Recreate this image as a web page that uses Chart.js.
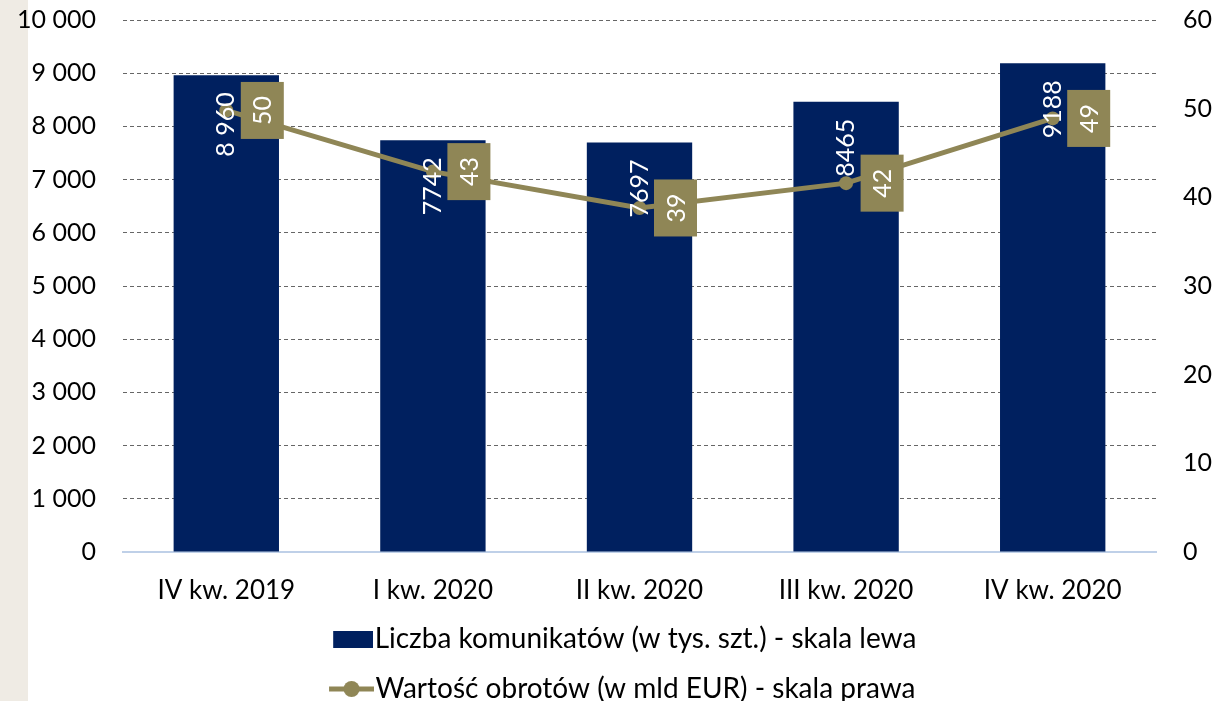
<!DOCTYPE html>
<html lang="pl">
<head>
<meta charset="utf-8">
<title>Liczba komunikatów i wartość obrotów</title>
<script src="https://cdn.jsdelivr.net/npm/chart.js@4.4.1/dist/chart.umd.min.js"></script>
<style>
  html, body { margin: 0; padding: 0; background: #fff; overflow: hidden; }
  #wrap { position: relative; width: 1232px; height: 701px; overflow: hidden; }
  #strip { position: absolute; left: 0; top: 0; width: 28px; height: 100%; background: #efebe4; }
  #chart { position: absolute; left: 0; top: 0; }
</style>
</head>
<body>
<div id="wrap">
  <div id="strip"></div>
  <canvas id="chart" width="1232" height="713"></canvas>
</div>
<script>
// data
const quarters = ['IV kw. 2019', 'I kw. 2020', 'II kw. 2020', 'III kw. 2020', 'IV kw. 2020'];
const messages = [8960, 7742, 7697, 8465, 9188];
const messageLabels = ['8 960', '7742', '7697', '8465', '9188'];
const turnover = [49.8, 42.9, 38.8, 41.6, 48.9];

const navy = '#00205f';
const olive = '#8f8656';
const fontSize = 25;
const noColor = 'rgba(0,0,0,0)';

Chart.defaults.font.family = 'Lato, Carlito, sans-serif';
Chart.defaults.font.size = fontSize;
Chart.defaults.color = '#000';

// thousands with a plain space: 1 000, 10 000
const spaced = v => String(v).replace(/\B(?=(\d{3})+(?!\d))/g, ' ');

// legend icons (box / line with marker)
function makeIcon(draw) {
    const c = document.createElement('canvas');
    c.width = 70;
    c.height = 30;
    draw(c.getContext('2d'));
    return c;
}
const barIcon = makeIcon(ctx => {
    ctx.fillStyle = navy;
    ctx.fillRect(30, 7, 40, 17);
});
const lineIcon = makeIcon(ctx => {
    ctx.strokeStyle = olive;
    ctx.lineWidth = 5;
    ctx.beginPath();
    ctx.moveTo(25, 15);
    ctx.lineTo(70, 15);
    ctx.stroke();
    ctx.fillStyle = olive;
    ctx.beginPath();
    ctx.arc(47.5, 15, 8, 0, Math.PI * 2);
    ctx.fill();
});
const legendIcons = [barIcon, lineIcon];

// rotated value labels, boxed ones for the line
const valueLabels = {
    id: 'valueLabels',
    afterDatasetsDraw(chart) {
        const ctx = chart.ctx;
        ctx.save();
        ctx.font = fontSize + 'px Lato, Carlito, sans-serif';
        ctx.textBaseline = 'middle';

        chart.getDatasetMeta(0).data.forEach((bar, i) => {
            ctx.save();
            ctx.translate(bar.x, bar.y + 17);
            ctx.rotate(-Math.PI / 2);
            ctx.textAlign = 'right';
            ctx.fillStyle = '#fff';
            ctx.fillText(messageLabels[i], 0, 0);
            ctx.restore();
        });

        chart.getDatasetMeta(1).data.forEach((pt, i) => {
            const cx = pt.x + 36;
            const cy = pt.y;
            ctx.fillStyle = olive;
            ctx.fillRect(cx - 21.5, cy - 28.5, 43, 57);
            ctx.save();
            ctx.translate(cx + 1, cy);
            ctx.rotate(-Math.PI / 2);
            ctx.textAlign = 'center';
            ctx.fillStyle = '#fff';
            ctx.fillText(String(Math.round(turnover[i])), 0, 0);
            ctx.restore();
        });
        ctx.restore();
    }
};

new Chart(document.getElementById('chart'), {
    type: 'bar',
    data: {
        labels: quarters,
        datasets: [
            {
                type: 'bar',
                label: 'Liczba komunikatów (w tys. szt.) - skala lewa',
                data: messages,
                backgroundColor: navy,
                yAxisID: 'y',
                barPercentage: 0.51,
                categoryPercentage: 1,
                order: 2,
            },
            {
                type: 'line',
                label: 'Wartość obrotów (w mld EUR) - skala prawa',
                data: turnover,
                borderColor: olive,
                backgroundColor: olive,
                borderWidth: 5,
                pointRadius: 7,
                pointBackgroundColor: olive,
                pointBorderWidth: 0,
                tension: 0,
                yAxisID: 'y1',
                order: 1,
            },
        ],
    },
    options: {
        responsive: false,
        animation: false,
        layout: {
            padding: { top: 20 },
        },
        scales: {
            x: {
                grid: { display: false, drawTicks: false },
                border: { color: '#bfd0e8', width: 2 },
                ticks: { padding: 23, font: { size: 26 } },
                afterFit: s => { s.height = 51; },
            },
            y: {
                position: 'left',
                min: 0,
                max: 10000,
                ticks: { stepSize: 1000, padding: 0, callback: v => spaced(v) },
                grid: {
                    drawTicks: true,
                    tickLength: 27,
                    tickColor: noColor,
                    lineWidth: 1,
                    color: c => c.tick && c.tick.value === 0 ? noColor : '#666',
                },
                border: { display: false, dash: [4, 3] },
                afterFit: s => { s.width = 123; },
            },
            y1: {
                position: 'right',
                min: 0,
                max: 60,
                ticks: { stepSize: 10, padding: 0 },
                grid: { drawOnChartArea: false, drawTicks: true, tickLength: 27, tickColor: noColor },
                border: { display: false },
                afterFit: s => { s.width = 76; },
            },
        },
        plugins: {
            tooltip: { enabled: false },
            legend: {
                position: 'bottom',
                labels: {
                    font: { size: 28 },
                    padding: 22,
                    usePointStyle: true,
                    pointStyleWidth: 45,
                    sort: (a, b) => a.datasetIndex - b.datasetIndex,
                    generateLabels: chart => Chart.defaults.plugins.legend.labels.generateLabels(chart)
                        .map(item => ({ ...item, pointStyle: legendIcons[item.datasetIndex] })),
                },
            },
        },
    },
    plugins: [valueLabels],
});
</script>
</body>
</html>
